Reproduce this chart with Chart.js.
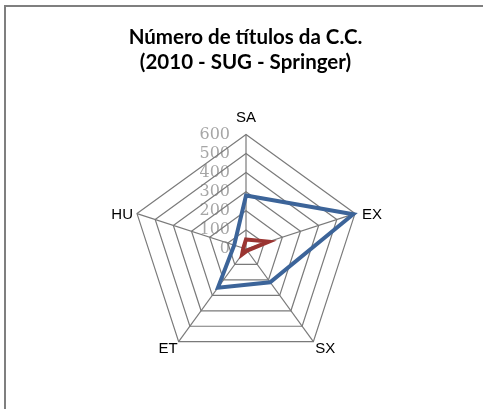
<!DOCTYPE html>
<html>
<head>
<meta charset="utf-8">
<script src="https://cdn.jsdelivr.net/npm/chart.js@4/dist/chart.umd.min.js"></script>
<style>
  html, body { margin: 0; padding: 0; background: #fff; overflow: hidden; }
  #wrap { position: relative; width: 483px; height: 409px; }
  #frame { position: absolute; left: 4px; top: 5px; width: 500px; height: 420px;
           border-left: 2px solid #7f7f7f; border-top: 2px solid #7f7f7f; }
  canvas { position: absolute; left: 0; top: 0; }
</style>
</head>
<body>
<div id="wrap">
  <div id="frame"></div>
  <canvas id="radarChart" width="483" height="409"></canvas>
</div>
<script>
// categories and values
const categorias = ['SA', 'EX', 'SX', 'ET', 'HU'];
const serie1 = [280, 590, 215, 250, 65];
const serie2 = [50, 125, 10, 35, 15];
const tickValores = [0, 100, 200, 300, 400, 500, 600];

// tick labels drawn left of the vertical axis, under the grid
const tickLabelsPlugin = {
    id: 'tickLabels',
    beforeDraw(chart) {
        const r = chart.scales.r;
        const ctx = chart.ctx;
        ctx.save();
        ctx.font = '16px "DejaVu Serif"';
        ctx.fillStyle = '#a6a6a6';
        ctx.textAlign = 'right';
        ctx.textBaseline = 'middle';
        tickValores.forEach(v => {
            const d = r.getDistanceFromCenterForValue(v);
            ctx.fillText(String(v), r.xCenter - 16, r.yCenter - d);
        });
        ctx.restore();
    }
};

// category labels placed the way Excel puts them, next to each outer vertex
const catLabelsPlugin = {
    id: 'catLabels',
    afterDraw(chart) {
        const r = chart.scales.r;
        const ctx = chart.ctx;
        const outer = r.getDistanceFromCenterForValue(r.max);
        ctx.save();
        ctx.font = '15px "Liberation Sans"';
        ctx.fillStyle = '#000';
        categorias.forEach((txt, i) => {
            const p = r.getPointPosition(i, outer);
            if (i === 0) {
                ctx.textAlign = 'center'; ctx.textBaseline = 'bottom';
                ctx.fillText(txt, p.x, p.y - 9);
            } else if (i === 1) {
                ctx.textAlign = 'left'; ctx.textBaseline = 'middle';
                ctx.fillText(txt, p.x + 7, p.y + 1);
            } else if (i === 2) {
                ctx.textAlign = 'left'; ctx.textBaseline = 'top';
                ctx.fillText(txt, p.x + 2, p.y);
            } else if (i === 3) {
                ctx.textAlign = 'right'; ctx.textBaseline = 'top';
                ctx.fillText(txt, p.x - 1, p.y);
            } else {
                ctx.textAlign = 'right'; ctx.textBaseline = 'middle';
                ctx.fillText(txt, p.x - 4, p.y + 1);
            }
        });
        ctx.restore();
    }
};

const ctx = document.getElementById('radarChart').getContext('2d');
new Chart(ctx, {
    type: 'radar',
    data: {
        labels: categorias,
        datasets: [
            { label: 'Série 1', data: serie1, borderColor: '#3c6499', borderWidth: 4, fill: false, pointRadius: 0, borderJoinStyle: 'miter' },
            { label: 'Série 2', data: serie2, borderColor: '#9a3532', borderWidth: 4, fill: false, pointRadius: 0, borderJoinStyle: 'miter' }
        ]
    },
    options: {
        responsive: false,
        animation: false,
        layout: { padding: { left: 104, right: 96, top: 21, bottom: 31 } },
        plugins: {
            legend: { display: false },
            tooltip: { enabled: false },
            title: {
                display: true,
                text: ['Número de títulos da C.C.', '(2010 - SUG - Springer)'],
                color: '#000',
                font: { family: 'Lato', size: 20.5, weight: 'bold', lineHeight: 1.2 },
                padding: { top: 4, bottom: 23 }
            }
        },
        scales: {
            r: {
                min: 0,
                max: 600,
                ticks: { stepSize: 100, display: false },
                grid: { color: '#7a7a7a', lineWidth: 1.2 },
                angleLines: { color: '#7a7a7a', lineWidth: 1.2 },
                // kept for layout only, drawn by catLabelsPlugin
                pointLabels: { color: 'rgba(0,0,0,0)', font: { family: 'Liberation Sans', size: 16 }, padding: 6 }
            }
        }
    },
    plugins: [tickLabelsPlugin, catLabelsPlugin]
});
</script>
</body>
</html>
